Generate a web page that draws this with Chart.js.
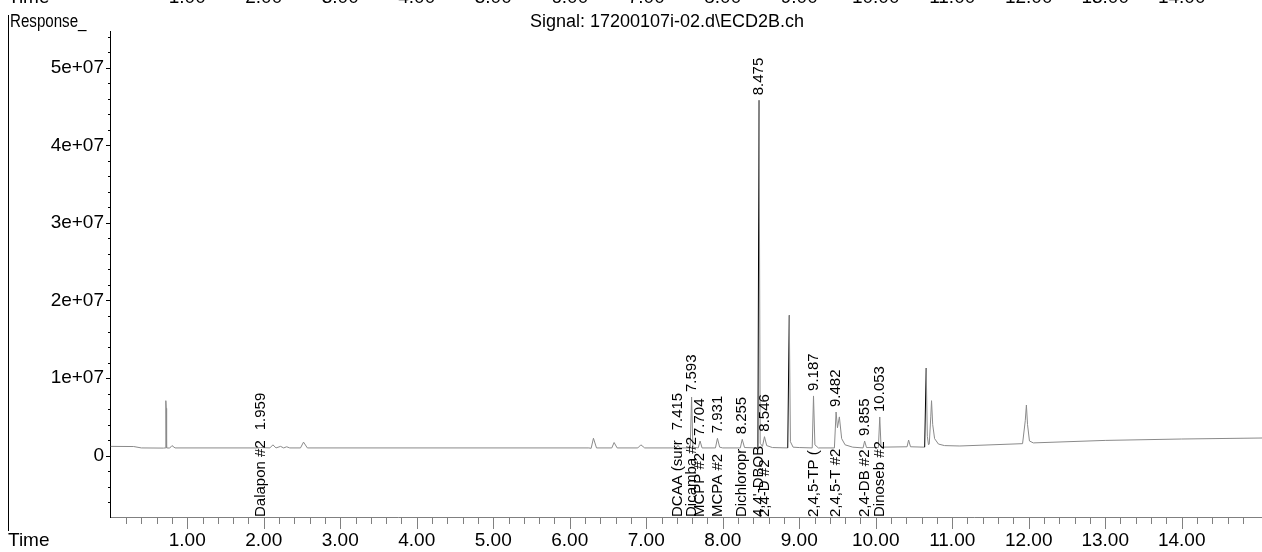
<!DOCTYPE html>
<html>
<head>
<meta charset="utf-8">
<script src="https://cdn.jsdelivr.net/npm/chart.js@4"></script>
<style>
  body { margin: 0; background: #fff; }
  #wrap { width: 1262px; height: 552px; }
</style>
</head>
<body>
<div id="wrap"><canvas id="chrom" width="1262" height="552"></canvas></div>
<script>
// ---------------------- SIGNAL TRACE (min, response) ---------------------
const traceTime = [
  0.00, 0.30, 0.40, 0.69, 0.71, 0.72, 0.725, 0.73, 0.77, 0.80, 0.84,
  1.90, 1.959, 2.08, 2.12, 2.16, 2.22, 2.26, 2.30, 2.34, 2.48, 2.52, 2.57,
  6.25, 6.28, 6.31, 6.35, 6.55, 6.58, 6.62, 6.89, 6.93, 6.98,
  7.39, 7.415, 7.44, 7.575, 7.593, 7.61, 7.68, 7.704, 7.73,
  7.905, 7.931, 7.96, 8.00, 8.23, 8.255, 8.285,
  8.46, 8.475, 8.49, 8.52, 8.546, 8.575, 8.65,
  8.85, 8.87, 8.885, 8.92, 9.00,
  9.17, 9.187, 9.205, 9.25, 9.46, 9.482, 9.50, 9.525, 9.555, 9.60, 9.70,
  9.835, 9.855, 9.88, 10.035, 10.053, 10.07,
  10.41, 10.43, 10.455, 10.64, 10.66, 10.675, 10.69, 10.70, 10.72, 10.73, 10.745, 10.77, 10.82, 10.90,
  11.10, 11.92, 11.955, 11.97, 11.985, 12.01, 12.06, 13.00, 14.00, 15.05
];
const traceResp = [
  1.2e6, 1.18e6, 1.0e6, 0.98e6, 1.0e6, 7.09e6, 6.1e6, 1.0e6, 0.98e6, 1.3e6, 1.0e6,
  1.0e6, 1.05e6, 1.0e6, 1.4e6, 1.0e6, 1.2e6, 1.0e6, 1.15e6, 1.0e6, 1.0e6, 1.75e6, 1.0e6,
  1.0e6, 0.95e6, 2.25e6, 1.0e6, 1.0e6, 1.7e6, 1.0e6, 1.0e6, 1.4e6, 1.0e6,
  1.0e6, 1.35e6, 1.0e6, 1.0e6, 7.56e6, 1.1e6, 1.0e6, 1.89e6, 1.0e6,
  1.0e6, 2.24e6, 1.1e6, 1.0e6, 1.0e6, 2.11e6, 1.05e6,
  1.0e6, 4.58e7, 1.6e6, 1.2e6, 2.45e6, 1.3e6, 1.05e6,
  1.0e6, 1.81e7, 1.8e6, 1.1e6, 1.05e6,
  1.0e6, 7.7e6, 1.4e6, 1.0e6, 1.0e6, 5.63e6, 3.6e6, 5.0e6, 2.2e6, 1.4e6, 1.1e6,
  1.0e6, 1.89e6, 1.05e6, 1.05e6, 4.99e6, 1.1e6,
  1.15e6, 2.02e6, 1.15e6, 1.1e6, 1.13e7, 2.5e6, 1.4e6, 1.5e6, 5.0e6, 7.09e6, 4.0e6, 2.2e6, 1.5e6, 1.3e6,
  1.25e6, 1.55e6, 4.5e6, 6.53e6, 4.0e6, 1.9e6, 1.65e6, 1.97e6, 2.15e6, 2.28e6
];

// ---------------------- PEAK LABELS ---------------------
const peakTimes = [1.959, 7.415, 7.593, 7.704, 7.931, 8.255, 8.475, 8.546, 9.187, 9.482, 9.855, 10.053];
const peakNames = ["Dalapon #2", "DCAA (surr", "Dicamba #2", "MCPP #2", "MCPA #2", "Dichloropr",
                   "4,4'-DBOB", "2,4-D #2", "2,4,5-TP (", "2,4,5-T #2", "2,4-DB #2", "Dinoseb #2"];

// ---------------------- AXIS TICKS ---------------------
const xTickValues = [1, 2, 3, 4, 5, 6, 7, 8, 9, 10, 11, 12, 13, 14];
const xTickLabels = ["1.00", "2.00", "3.00", "4.00", "5.00", "6.00", "7.00",
                     "8.00", "9.00", "10.00", "11.00", "12.00", "13.00", "14.00"];
const yTickValues = [0, 1e7, 2e7, 3e7, 4e7, 5e7];
const yTickLabels = ["0", "1e+07", "2e+07", "3e+07", "4e+07", "5e+07"];
const yMinorStep = 2e6;

const FONT = 'Arial, "Liberation Sans", sans-serif';
Chart.defaults.font.family = FONT;

const points = traceTime.map((t, i) => ({ x: t, y: traceResp[i] }));

function drawUp(ctx, text, px, py) {
  ctx.save();
  ctx.translate(px, py);
  ctx.rotate(-Math.PI / 2);
  ctx.textAlign = "left";
  ctx.textBaseline = "middle";
  ctx.fillText(text, 0, 0);
  ctx.restore();
}

// retention times + compound names, written upward
const peakLabels = {
  id: "peakLabels",
  afterDatasetsDraw(chart) {
    const ctx = chart.ctx;
    const { x, y } = chart.scales;
    const bottom = chart.chartArea.bottom;
    ctx.save();
    ctx.font = "15px " + FONT;
    ctx.fillStyle = "#000";
    peakTimes.forEach((rt, i) => {
      const k = traceTime.indexOf(rt);
      const px = x.getPixelForValue(rt);
      const py = y.getPixelForValue(traceResp[k]);
      const name = peakNames[i];
      const nameTop = bottom - ctx.measureText(name).width;
      drawUp(ctx, name, px, bottom);
      drawUp(ctx, rt.toFixed(3), px, Math.min(py - 5, nameTop - 10));
    });
    ctx.restore();
  }
};

// tick marks, header text and frame
const frame = {
  id: "frame",
  afterDraw(chart) {
    const ctx = chart.ctx;
    const { x, y } = chart.scales;
    const area = chart.chartArea;
    ctx.save();
    ctx.lineWidth = 1;

    ctx.strokeStyle = "#808080";
    x.ticks.forEach(t => {
      const v = t.value;
      if (v <= 0 || v > 15.001) return;
      if (Math.abs(v * 5 - Math.round(v * 5)) > 1e-6) return;
      const major = Math.abs(v - Math.round(v)) < 1e-6;
      const px = Math.round(x.getPixelForValue(v)) + 0.5;
      ctx.beginPath();
      ctx.moveTo(px, area.bottom);
      ctx.lineTo(px, area.bottom + (major ? 12 : 7));
      ctx.stroke();
    });

    ctx.strokeStyle = "#000";
    y.ticks.forEach(t => {
      const major = yTickValues.includes(t.value);
      const py = Math.round(y.getPixelForValue(t.value)) + 0.5;
      ctx.beginPath();
      ctx.moveTo(area.left, py);
      ctx.lineTo(area.left - (major ? 4 : 2), py);
      ctx.stroke();
    });

    // left frame line
    ctx.beginPath();
    ctx.moveTo(8.5, 15);
    ctx.lineTo(8.5, 531);
    ctx.stroke();

    ctx.fillStyle = "#000";
    ctx.font = "19px " + FONT;
    ctx.textBaseline = "middle";
    ctx.textAlign = "left";
    ctx.fillText("Time", 8, 541);

    // axis row of the panel above, cut by the top edge
    ctx.textBaseline = "alphabetic";
    ctx.fillText("Time", 8, 3);
    ctx.textAlign = "center";
    xTickValues.forEach((v, i) => ctx.fillText(xTickLabels[i], x.getPixelForValue(v), 3));

    ctx.font = "18px " + FONT;
    ctx.textBaseline = "middle";
    ctx.save();
    ctx.translate(10, 22);
    ctx.scale(0.84, 1);
    ctx.textAlign = "left";
    ctx.fillText("Response_", 0, 0);
    ctx.restore();
    ctx.textAlign = "center";
    ctx.fillText("Signal: 17200107i-02.d\\ECD2B.ch", 667, 22);
    ctx.restore();
  }
};

new Chart(document.getElementById("chrom"), {
  type: "scatter",
  data: {
    datasets: [{
      data: points,
      showLine: true,
      borderWidth: 1,
      borderColor: "#8a8a8a",
      pointRadius: 0,
      tension: 0,
      segment: {
        borderColor: c => (c.p1.parsed.y - c.p0.parsed.y > 8e6 ? "#000" : "#8a8a8a")
      }
    }]
  },
  options: {
    responsive: false,
    animation: false,
    devicePixelRatio: 1,
    layout: { padding: { top: 31, left: 0, right: 0, bottom: 0 } },
    plugins: { legend: { display: false }, tooltip: { enabled: false } },
    scales: {
      x: {
        type: "linear",
        min: -0.01,
        max: 15.05,
        afterFit: s => { s.height = 35; s.paddingLeft = 0; s.paddingRight = 0; },
        grid: { display: false, drawTicks: false },
        border: { display: true, color: "#808080", width: 1 },
        ticks: {
          stepSize: 0.2,
          autoSkip: false,
          maxRotation: 0,
          padding: 12,
          color: "#000",
          font: { size: 19 },
          callback: v => {
            const i = xTickValues.findIndex(t => Math.abs(t - v) < 1e-6);
            return i >= 0 ? xTickLabels[i] : "";
          }
        }
      },
      y: {
        type: "linear",
        min: -7.9e6,
        max: 5.473e7,
        afterBuildTicks: s => {
          const ticks = [];
          for (let v = -6e6; v <= s.max; v += yMinorStep) ticks.push({ value: v });
          s.ticks = ticks;
        },
        afterFit: s => { s.width = 110; s.paddingTop = 0; s.paddingBottom = 0; },
        grid: { display: false, drawTicks: false },
        border: { display: true, color: "#000", width: 1 },
        ticks: {
          autoSkip: false,
          padding: 6,
          color: "#000",
          font: { size: 19 },
          callback: v => {
            const i = yTickValues.indexOf(v);
            return i >= 0 ? yTickLabels[i] : "";
          }
        }
      }
    }
  },
  plugins: [peakLabels, frame]
});
</script>
</body>
</html>
